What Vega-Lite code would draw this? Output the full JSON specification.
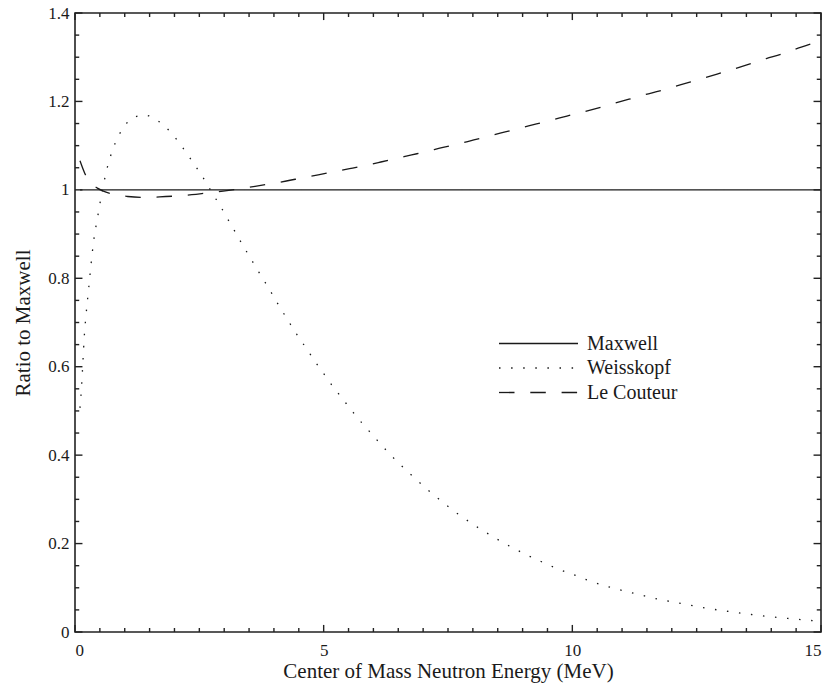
{
  "$schema": "https://vega.github.io/schema/vega-lite/v6.json",
  "width": 746,
  "height": 619,
  "autosize": {"type": "none"},
  "padding": {"left": 75, "top": 13, "right": 13, "bottom": 60},
  "background": "white",
  "config": {
    "font": "Liberation Serif",
    "view": {"stroke": null},
    "axis": {"labelColor": "#1a1a1a", "titleColor": "#1a1a1a", "grid": false, "domain": false, "ticks": false, "labelFontSize": 17, "titleFontSize": 21, "titleFontWeight": "normal"},
    "axisX": {"labelPadding": 10, "titlePadding": 2},
    "axisY": {"labelPadding": 6, "titlePadding": 14},
    "legend": {"labelColor": "#1a1a1a"}
  },
  "data": {"values": [
    {"kind": "frame"},
    {"E": 0, "kind": "xmajor"}, {"E": 0.5, "kind": "xminor"}, {"E": 1, "kind": "xminor"}, {"E": 1.5, "kind": "xminor"}, {"E": 2, "kind": "xminor"}, {"E": 2.5, "kind": "xminor"}, {"E": 3, "kind": "xminor"}, {"E": 3.5, "kind": "xminor"}, {"E": 4, "kind": "xminor"}, {"E": 4.5, "kind": "xminor"},
    {"E": 5, "kind": "xmajor"}, {"E": 5.5, "kind": "xminor"}, {"E": 6, "kind": "xminor"}, {"E": 6.5, "kind": "xminor"}, {"E": 7, "kind": "xminor"}, {"E": 7.5, "kind": "xminor"}, {"E": 8, "kind": "xminor"}, {"E": 8.5, "kind": "xminor"}, {"E": 9, "kind": "xminor"}, {"E": 9.5, "kind": "xminor"},
    {"E": 10, "kind": "xmajor"}, {"E": 10.5, "kind": "xminor"}, {"E": 11, "kind": "xminor"}, {"E": 11.5, "kind": "xminor"}, {"E": 12, "kind": "xminor"}, {"E": 12.5, "kind": "xminor"}, {"E": 13, "kind": "xminor"}, {"E": 13.5, "kind": "xminor"}, {"E": 14, "kind": "xminor"}, {"E": 14.5, "kind": "xminor"},
    {"E": 15, "kind": "xmajor"},
    {"R": 0, "kind": "ymajor"}, {"R": 0.05, "kind": "yminor"}, {"R": 0.1, "kind": "yminor"}, {"R": 0.15, "kind": "yminor"},
    {"R": 0.2, "kind": "ymajor"}, {"R": 0.25, "kind": "yminor"}, {"R": 0.3, "kind": "yminor"}, {"R": 0.35, "kind": "yminor"},
    {"R": 0.4, "kind": "ymajor"}, {"R": 0.45, "kind": "yminor"}, {"R": 0.5, "kind": "yminor"}, {"R": 0.55, "kind": "yminor"},
    {"R": 0.6, "kind": "ymajor"}, {"R": 0.65, "kind": "yminor"}, {"R": 0.7, "kind": "yminor"}, {"R": 0.75, "kind": "yminor"},
    {"R": 0.8, "kind": "ymajor"}, {"R": 0.85, "kind": "yminor"}, {"R": 0.9, "kind": "yminor"}, {"R": 0.95, "kind": "yminor"},
    {"R": 1.0, "kind": "ymajor"}, {"R": 1.05, "kind": "yminor"}, {"R": 1.1, "kind": "yminor"}, {"R": 1.15, "kind": "yminor"},
    {"R": 1.2, "kind": "ymajor"}, {"R": 1.25, "kind": "yminor"}, {"R": 1.3, "kind": "yminor"}, {"R": 1.35, "kind": "yminor"},
    {"R": 1.4, "kind": "ymajor"},
    {"E": 0.1, "R": 1, "series": "Maxwell", "kind": "curve"},
    {"E": 15, "R": 1, "series": "Maxwell", "kind": "curve"},
    {"E": 0.10, "R": 0.507, "series": "Weisskopf", "kind": "curve"},
    {"E": 0.135, "R": 0.561, "series": "Weisskopf", "kind": "curve"},
    {"E": 0.161, "R": 0.615, "series": "Weisskopf", "kind": "curve"},
    {"E": 0.187, "R": 0.669, "series": "Weisskopf", "kind": "curve"},
    {"E": 0.227, "R": 0.723, "series": "Weisskopf", "kind": "curve"},
    {"E": 0.275, "R": 0.777, "series": "Weisskopf", "kind": "curve"},
    {"E": 0.322, "R": 0.831, "series": "Weisskopf", "kind": "curve"},
    {"E": 0.376, "R": 0.885, "series": "Weisskopf", "kind": "curve"},
    {"E": 0.456, "R": 0.939, "series": "Weisskopf", "kind": "curve"},
    {"E": 0.537, "R": 0.991, "series": "Weisskopf", "kind": "curve"},
    {"E": 0.637, "R": 1.045, "series": "Weisskopf", "kind": "curve"},
    {"E": 0.778, "R": 1.097, "series": "Weisskopf", "kind": "curve"},
    {"E": 0.879, "R": 1.123, "series": "Weisskopf", "kind": "curve"},
    {"E": 1.00, "R": 1.145, "series": "Weisskopf", "kind": "curve"},
    {"E": 1.18, "R": 1.164, "series": "Weisskopf", "kind": "curve"},
    {"E": 1.41, "R": 1.169, "series": "Weisskopf", "kind": "curve"},
    {"E": 1.63, "R": 1.159, "series": "Weisskopf", "kind": "curve"},
    {"E": 1.82, "R": 1.142, "series": "Weisskopf", "kind": "curve"},
    {"E": 1.98, "R": 1.123, "series": "Weisskopf", "kind": "curve"},
    {"E": 2.13, "R": 1.101, "series": "Weisskopf", "kind": "curve"},
    {"E": 2.27, "R": 1.079, "series": "Weisskopf", "kind": "curve"},
    {"E": 2.41, "R": 1.056, "series": "Weisskopf", "kind": "curve"},
    {"E": 2.54, "R": 1.034, "series": "Weisskopf", "kind": "curve"},
    {"E": 2.67, "R": 1.010, "series": "Weisskopf", "kind": "curve"},
    {"E": 2.79, "R": 0.987, "series": "Weisskopf", "kind": "curve"},
    {"E": 2.92, "R": 0.964, "series": "Weisskopf", "kind": "curve"},
    {"E": 3.04, "R": 0.940, "series": "Weisskopf", "kind": "curve"},
    {"E": 3.16, "R": 0.917, "series": "Weisskopf", "kind": "curve"},
    {"E": 3.28, "R": 0.893, "series": "Weisskopf", "kind": "curve"},
    {"E": 3.40, "R": 0.870, "series": "Weisskopf", "kind": "curve"},
    {"E": 3.52, "R": 0.847, "series": "Weisskopf", "kind": "curve"},
    {"E": 3.65, "R": 0.823, "series": "Weisskopf", "kind": "curve"},
    {"E": 3.77, "R": 0.800, "series": "Weisskopf", "kind": "curve"},
    {"E": 3.90, "R": 0.777, "series": "Weisskopf", "kind": "curve"},
    {"E": 4.02, "R": 0.753, "series": "Weisskopf", "kind": "curve"},
    {"E": 4.14, "R": 0.731, "series": "Weisskopf", "kind": "curve"},
    {"E": 4.27, "R": 0.707, "series": "Weisskopf", "kind": "curve"},
    {"E": 4.40, "R": 0.684, "series": "Weisskopf", "kind": "curve"},
    {"E": 4.53, "R": 0.661, "series": "Weisskopf", "kind": "curve"},
    {"E": 4.67, "R": 0.639, "series": "Weisskopf", "kind": "curve"},
    {"E": 4.80, "R": 0.616, "series": "Weisskopf", "kind": "curve"},
    {"E": 4.94, "R": 0.594, "series": "Weisskopf", "kind": "curve"},
    {"E": 5.08, "R": 0.572, "series": "Weisskopf", "kind": "curve"},
    {"E": 5.22, "R": 0.550, "series": "Weisskopf", "kind": "curve"},
    {"E": 5.37, "R": 0.529, "series": "Weisskopf", "kind": "curve"},
    {"E": 5.52, "R": 0.507, "series": "Weisskopf", "kind": "curve"},
    {"E": 5.67, "R": 0.486, "series": "Weisskopf", "kind": "curve"},
    {"E": 5.83, "R": 0.465, "series": "Weisskopf", "kind": "curve"},
    {"E": 5.99, "R": 0.445, "series": "Weisskopf", "kind": "curve"},
    {"E": 6.15, "R": 0.424, "series": "Weisskopf", "kind": "curve"},
    {"E": 6.31, "R": 0.405, "series": "Weisskopf", "kind": "curve"},
    {"E": 6.48, "R": 0.385, "series": "Weisskopf", "kind": "curve"},
    {"E": 6.66, "R": 0.366, "series": "Weisskopf", "kind": "curve"},
    {"E": 6.83, "R": 0.348, "series": "Weisskopf", "kind": "curve"},
    {"E": 7.01, "R": 0.330, "series": "Weisskopf", "kind": "curve"},
    {"E": 7.19, "R": 0.312, "series": "Weisskopf", "kind": "curve"},
    {"E": 7.38, "R": 0.295, "series": "Weisskopf", "kind": "curve"},
    {"E": 7.57, "R": 0.278, "series": "Weisskopf", "kind": "curve"},
    {"E": 7.76, "R": 0.262, "series": "Weisskopf", "kind": "curve"},
    {"E": 7.96, "R": 0.247, "series": "Weisskopf", "kind": "curve"},
    {"E": 8.16, "R": 0.232, "series": "Weisskopf", "kind": "curve"},
    {"E": 8.37, "R": 0.218, "series": "Weisskopf", "kind": "curve"},
    {"E": 8.58, "R": 0.204, "series": "Weisskopf", "kind": "curve"},
    {"E": 8.79, "R": 0.191, "series": "Weisskopf", "kind": "curve"},
    {"E": 9.00, "R": 0.179, "series": "Weisskopf", "kind": "curve"},
    {"E": 9.22, "R": 0.167, "series": "Weisskopf", "kind": "curve"},
    {"E": 9.44, "R": 0.156, "series": "Weisskopf", "kind": "curve"},
    {"E": 9.66, "R": 0.145, "series": "Weisskopf", "kind": "curve"},
    {"E": 9.89, "R": 0.135, "series": "Weisskopf", "kind": "curve"},
    {"E": 10.11, "R": 0.126, "series": "Weisskopf", "kind": "curve"},
    {"E": 10.34, "R": 0.116, "series": "Weisskopf", "kind": "curve"},
    {"E": 10.80, "R": 0.100, "series": "Weisskopf", "kind": "curve"},
    {"E": 11.26, "R": 0.087, "series": "Weisskopf", "kind": "curve"},
    {"E": 11.74, "R": 0.074, "series": "Weisskopf", "kind": "curve"},
    {"E": 12.21, "R": 0.064, "series": "Weisskopf", "kind": "curve"},
    {"E": 12.69, "R": 0.054, "series": "Weisskopf", "kind": "curve"},
    {"E": 13.17, "R": 0.046, "series": "Weisskopf", "kind": "curve"},
    {"E": 13.64, "R": 0.039, "series": "Weisskopf", "kind": "curve"},
    {"E": 14.12, "R": 0.033, "series": "Weisskopf", "kind": "curve"},
    {"E": 14.60, "R": 0.028, "series": "Weisskopf", "kind": "curve"},
    {"E": 15.0, "R": 0.024, "series": "Weisskopf", "kind": "curve"},
    {"E": 0.10, "R": 1.066, "series": "Le Couteur", "kind": "curve"},
    {"E": 0.215, "R": 1.033, "series": "Le Couteur", "kind": "curve"},
    {"E": 0.32, "R": 1.015, "series": "Le Couteur", "kind": "curve"},
    {"E": 0.45, "R": 1.004, "series": "Le Couteur", "kind": "curve"},
    {"E": 0.74, "R": 0.991, "series": "Le Couteur", "kind": "curve"},
    {"E": 1.06, "R": 0.985, "series": "Le Couteur", "kind": "curve"},
    {"E": 1.37, "R": 0.983, "series": "Le Couteur", "kind": "curve"},
    {"E": 1.70, "R": 0.984, "series": "Le Couteur", "kind": "curve"},
    {"E": 2.02, "R": 0.986, "series": "Le Couteur", "kind": "curve"},
    {"E": 2.35, "R": 0.989, "series": "Le Couteur", "kind": "curve"},
    {"E": 2.66, "R": 0.993, "series": "Le Couteur", "kind": "curve"},
    {"E": 2.98, "R": 0.997, "series": "Le Couteur", "kind": "curve"},
    {"E": 3.30, "R": 1.002, "series": "Le Couteur", "kind": "curve"},
    {"E": 3.62, "R": 1.008, "series": "Le Couteur", "kind": "curve"},
    {"E": 3.94, "R": 1.014, "series": "Le Couteur", "kind": "curve"},
    {"E": 4.25, "R": 1.020, "series": "Le Couteur", "kind": "curve"},
    {"E": 4.56, "R": 1.027, "series": "Le Couteur", "kind": "curve"},
    {"E": 4.89, "R": 1.034, "series": "Le Couteur", "kind": "curve"},
    {"E": 5.20, "R": 1.041, "series": "Le Couteur", "kind": "curve"},
    {"E": 5.52, "R": 1.048, "series": "Le Couteur", "kind": "curve"},
    {"E": 5.83, "R": 1.055, "series": "Le Couteur", "kind": "curve"},
    {"E": 6.15, "R": 1.063, "series": "Le Couteur", "kind": "curve"},
    {"E": 6.46, "R": 1.071, "series": "Le Couteur", "kind": "curve"},
    {"E": 6.77, "R": 1.079, "series": "Le Couteur", "kind": "curve"},
    {"E": 7.08, "R": 1.087, "series": "Le Couteur", "kind": "curve"},
    {"E": 7.40, "R": 1.096, "series": "Le Couteur", "kind": "curve"},
    {"E": 7.71, "R": 1.104, "series": "Le Couteur", "kind": "curve"},
    {"E": 8.02, "R": 1.113, "series": "Le Couteur", "kind": "curve"},
    {"E": 8.34, "R": 1.122, "series": "Le Couteur", "kind": "curve"},
    {"E": 8.65, "R": 1.131, "series": "Le Couteur", "kind": "curve"},
    {"E": 8.96, "R": 1.140, "series": "Le Couteur", "kind": "curve"},
    {"E": 9.28, "R": 1.149, "series": "Le Couteur", "kind": "curve"},
    {"E": 9.59, "R": 1.158, "series": "Le Couteur", "kind": "curve"},
    {"E": 9.89, "R": 1.167, "series": "Le Couteur", "kind": "curve"},
    {"E": 10.21, "R": 1.176, "series": "Le Couteur", "kind": "curve"},
    {"E": 10.51, "R": 1.185, "series": "Le Couteur", "kind": "curve"},
    {"E": 10.82, "R": 1.195, "series": "Le Couteur", "kind": "curve"},
    {"E": 11.14, "R": 1.205, "series": "Le Couteur", "kind": "curve"},
    {"E": 11.45, "R": 1.215, "series": "Le Couteur", "kind": "curve"},
    {"E": 11.76, "R": 1.224, "series": "Le Couteur", "kind": "curve"},
    {"E": 12.07, "R": 1.234, "series": "Le Couteur", "kind": "curve"},
    {"E": 12.38, "R": 1.244, "series": "Le Couteur", "kind": "curve"},
    {"E": 12.68, "R": 1.254, "series": "Le Couteur", "kind": "curve"},
    {"E": 13.00, "R": 1.265, "series": "Le Couteur", "kind": "curve"},
    {"E": 13.29, "R": 1.275, "series": "Le Couteur", "kind": "curve"},
    {"E": 13.60, "R": 1.286, "series": "Le Couteur", "kind": "curve"},
    {"E": 13.90, "R": 1.297, "series": "Le Couteur", "kind": "curve"},
    {"E": 14.20, "R": 1.307, "series": "Le Couteur", "kind": "curve"},
    {"E": 14.50, "R": 1.319, "series": "Le Couteur", "kind": "curve"},
    {"E": 14.83, "R": 1.331, "series": "Le Couteur", "kind": "curve"},
    {"E": 15.0, "R": 1.337, "series": "Le Couteur", "kind": "curve"}
  ]},
  "layer": [
    {
      "transform": [{"filter": "datum.kind === 'curve'"}],
      "mark": {"type": "line", "stroke": "#1a1a1a", "strokeWidth": 1.3, "strokeCap": "butt", "interpolate": "monotone", "clip": true},
      "encoding": {
        "x": {"field": "E", "type": "quantitative", "scale": {"domain": [0, 15], "nice": false, "zero": false, "padding": 0},
          "axis": {"values": [0, 5, 10, 15], "title": "Center of Mass Neutron Energy (MeV)"}},
        "y": {"field": "R", "type": "quantitative", "scale": {"domain": [0, 1.4], "nice": false, "zero": false, "padding": 0},
          "axis": {"values": [0, 0.2, 0.4, 0.6, 0.8, 1, 1.2, 1.4], "format": "~g", "title": "Ratio to Maxwell"}},
        "strokeDash": {"field": "series", "type": "nominal",
          "scale": {"domain": ["Maxwell", "Weisskopf", "Le Couteur"], "range": [[1, 0], [1.5, 10.6], [15.5, 15.8]]},
          "legend": {"orient": "none", "legendX": 453.5, "legendY": 320.5, "title": null, "padding": 0,
            "symbolType": "M-39.5,0H39.5", "symbolSize": 4, "symbolStrokeColor": "#1a1a1a", "symbolStrokeWidth": 1.3,
            "labelFontSize": 20, "labelOffset": 38.5, "rowPadding": 4.5, "labelFont": "Liberation Serif"}}
      }
    },
    {
      "transform": [{"filter": "datum.kind === 'frame'"}],
      "mark": {"type": "rect", "filled": false, "stroke": "#222", "strokeWidth": 1.6},
      "encoding": {
        "x": {"datum": 0, "type": "quantitative", "axis": {"values": [0, 5, 10, 15], "title": "Center of Mass Neutron Energy (MeV)"}},
        "x2": {"datum": 15},
        "y": {"datum": 0, "type": "quantitative", "axis": {"values": [0, 0.2, 0.4, 0.6, 0.8, 1, 1.2, 1.4], "format": "~g", "title": "Ratio to Maxwell"}},
        "y2": {"datum": 1.4}}
    },
    {
      "transform": [{"filter": "datum.kind === 'xmajor'"}],
      "mark": {"type": "rule", "stroke": "#222", "strokeWidth": 1.4},
      "encoding": {
        "x": {"field": "E", "type": "quantitative", "axis": {"values": [0, 5, 10, 15], "title": "Center of Mass Neutron Energy (MeV)"}},
        "y": {"datum": 0, "type": "quantitative", "axis": {"values": [0, 0.2, 0.4, 0.6, 0.8, 1, 1.2, 1.4], "format": "~g", "title": "Ratio to Maxwell"}},
        "y2": {"datum": 0.016}}
    },
    {
      "transform": [{"filter": "datum.kind === 'xminor'"}],
      "mark": {"type": "rule", "stroke": "#222", "strokeWidth": 1.4},
      "encoding": {
        "x": {"field": "E", "type": "quantitative", "axis": {"values": [0, 5, 10, 15], "title": "Center of Mass Neutron Energy (MeV)"}},
        "y": {"datum": 0, "type": "quantitative", "axis": {"values": [0, 0.2, 0.4, 0.6, 0.8, 1, 1.2, 1.4], "format": "~g", "title": "Ratio to Maxwell"}},
        "y2": {"datum": 0.009}}
    },
    {
      "transform": [{"filter": "datum.kind === 'xmajor'"}],
      "mark": {"type": "rule", "stroke": "#222", "strokeWidth": 1.4},
      "encoding": {
        "x": {"field": "E", "type": "quantitative", "axis": {"values": [0, 5, 10, 15], "title": "Center of Mass Neutron Energy (MeV)"}},
        "y": {"datum": 1.384, "type": "quantitative", "axis": {"values": [0, 0.2, 0.4, 0.6, 0.8, 1, 1.2, 1.4], "format": "~g", "title": "Ratio to Maxwell"}},
        "y2": {"datum": 1.4}}
    },
    {
      "transform": [{"filter": "datum.kind === 'xminor'"}],
      "mark": {"type": "rule", "stroke": "#222", "strokeWidth": 1.4},
      "encoding": {
        "x": {"field": "E", "type": "quantitative", "axis": {"values": [0, 5, 10, 15], "title": "Center of Mass Neutron Energy (MeV)"}},
        "y": {"datum": 1.391, "type": "quantitative", "axis": {"values": [0, 0.2, 0.4, 0.6, 0.8, 1, 1.2, 1.4], "format": "~g", "title": "Ratio to Maxwell"}},
        "y2": {"datum": 1.4}}
    },
    {
      "transform": [{"filter": "datum.kind === 'ymajor'"}],
      "mark": {"type": "rule", "stroke": "#222", "strokeWidth": 1.4},
      "encoding": {
        "y": {"field": "R", "type": "quantitative", "axis": {"values": [0, 0.2, 0.4, 0.6, 0.8, 1, 1.2, 1.4], "format": "~g", "title": "Ratio to Maxwell"}},
        "x": {"datum": 0, "type": "quantitative", "axis": {"values": [0, 5, 10, 15], "title": "Center of Mass Neutron Energy (MeV)"}},
        "x2": {"datum": 0.15}}
    },
    {
      "transform": [{"filter": "datum.kind === 'yminor'"}],
      "mark": {"type": "rule", "stroke": "#222", "strokeWidth": 1.4},
      "encoding": {
        "y": {"field": "R", "type": "quantitative", "axis": {"values": [0, 0.2, 0.4, 0.6, 0.8, 1, 1.2, 1.4], "format": "~g", "title": "Ratio to Maxwell"}},
        "x": {"datum": 0, "type": "quantitative", "axis": {"values": [0, 5, 10, 15], "title": "Center of Mass Neutron Energy (MeV)"}},
        "x2": {"datum": 0.085}}
    },
    {
      "transform": [{"filter": "datum.kind === 'ymajor'"}],
      "mark": {"type": "rule", "stroke": "#222", "strokeWidth": 1.4},
      "encoding": {
        "y": {"field": "R", "type": "quantitative", "axis": {"values": [0, 0.2, 0.4, 0.6, 0.8, 1, 1.2, 1.4], "format": "~g", "title": "Ratio to Maxwell"}},
        "x": {"datum": 14.85, "type": "quantitative", "axis": {"values": [0, 5, 10, 15], "title": "Center of Mass Neutron Energy (MeV)"}},
        "x2": {"datum": 15}}
    },
    {
      "transform": [{"filter": "datum.kind === 'yminor'"}],
      "mark": {"type": "rule", "stroke": "#222", "strokeWidth": 1.4},
      "encoding": {
        "y": {"field": "R", "type": "quantitative", "axis": {"values": [0, 0.2, 0.4, 0.6, 0.8, 1, 1.2, 1.4], "format": "~g", "title": "Ratio to Maxwell"}},
        "x": {"datum": 14.915, "type": "quantitative", "axis": {"values": [0, 5, 10, 15], "title": "Center of Mass Neutron Energy (MeV)"}},
        "x2": {"datum": 15}}
    }
  ]
}
